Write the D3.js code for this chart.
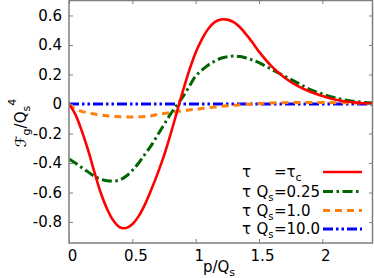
<!DOCTYPE html>
<html>
<head>
<meta charset="utf-8">
<script src="https://cdn.jsdelivr.net/npm/d3@7"></script>
<style>
  body { margin: 0; background: #fff; }
  text { font-family: "DejaVu Sans", sans-serif; }
</style>
</head>
<body>
<div id="chart"></div>
<script>
// chart size
const width = 374;
const height = 278;
const margin = {left: 69, right: 1, top: 0, bottom: 35};

// data
const pValues = [0, 0.05, 0.1, 0.15, 0.2, 0.25, 0.3, 0.35, 0.4, 0.45, 0.5, 0.55, 0.6, 0.65, 0.7, 0.75, 0.8, 0.85, 0.9, 0.95, 1.0,
                 1.05, 1.1, 1.15, 1.2, 1.25, 1.3, 1.35, 1.4, 1.45, 1.5, 1.6, 1.7, 1.8, 1.9, 2.0, 2.1, 2.2, 2.3, 2.4];
const tauC = [0, -0.07, -0.18, -0.31, -0.46, -0.6, -0.71, -0.79, -0.835, -0.84, -0.815, -0.76, -0.68, -0.58, -0.47, -0.35, -0.21, -0.06, 0.09, 0.23, 0.35,
              0.44, 0.51, 0.555, 0.573, 0.572, 0.555, 0.52, 0.47, 0.415, 0.355, 0.255, 0.18, 0.125, 0.085, 0.055, 0.03, 0.015, 0.007, 0.003];
const tau025 = [-0.373, -0.4, -0.43, -0.46, -0.49, -0.51, -0.52, -0.522, -0.515, -0.49, -0.45, -0.4, -0.34, -0.28, -0.21, -0.14, -0.07, -0.01, 0.05, 0.12, 0.19,
                0.23, 0.265, 0.29, 0.31, 0.32, 0.325, 0.322, 0.312, 0.298, 0.28, 0.235, 0.19, 0.145, 0.1, 0.068, 0.042, 0.024, 0.013, 0.007];
const tau10 = [0, -0.035, -0.05, -0.06, -0.068, -0.075, -0.08, -0.084, -0.086, -0.087, -0.088, -0.087, -0.085, -0.08, -0.07, -0.064, -0.058, -0.051, -0.045, -0.04, -0.035,
               -0.03, -0.025, -0.02, -0.016, -0.012, -0.008, -0.005, -0.002, 0.0, 0.003, 0.007, 0.009, 0.01, 0.01, 0.01, 0.009, 0.008, 0.007, 0.006];
const tau100 = pValues.map(() => 0); // flat at zero in the picture

const seriesNames = ["τ_c", "0.25", "1.0", "10.0"];
const seriesValues = [tauC, tau025, tau10, tau100];
const colors = ["#ff0000", "#006400", "#ff7f0e", "#0000ff"];
const dashes = [null, "10,3.5,2.5,3.5", "7,5", "10,3,2.5,3,2.5,3"];

const xTicks = [0, 0.5, 1, 1.5, 2];
const yTicks = [-0.8, -0.6, -0.4, -0.2, 0, 0.2, 0.4, 0.6];

const svg = d3.select("#chart")
  .append("svg")
  .attr("width", width)
  .attr("height", height);

const x = d3.scaleLinear().domain([0, 2.4]).range([margin.left, width - margin.right]);
const y = d3.scaleLinear().domain([-0.942, 0.705]).range([height - margin.bottom, margin.top]);

const frameColor = "#7f7f7f";

// curves (drawn first so the frame sits on top)
const line = d3.line()
  .x((d, i) => x(pValues[i]))
  .y(d => y(d))
  .curve(d3.curveCatmullRom);

const plot = svg.append("g");
plot.append("clipPath").attr("id", "clip")
  .append("rect")
  .attr("x", margin.left).attr("y", margin.top)
  .attr("width", width - margin.left - margin.right)
  .attr("height", height - margin.top - margin.bottom);

// draw in reverse so red ends on top
[3, 2, 1, 0].forEach(k => {
  plot.append("path")
    .datum(seriesValues[k])
    .attr("clip-path", "url(#clip)")
    .attr("fill", "none")
    .attr("stroke", colors[k])
    .attr("stroke-width", k === 0 ? 2.6 : 3)
    .attr("stroke-dasharray", dashes[k])
    .attr("d", line);
});

// axes with inward ticks on all sides
svg.append("g")
  .attr("transform", `translate(0,${y.range()[0]})`)
  .call(d3.axisBottom(x).tickValues(xTicks).tickSize(-4).tickPadding(7)
    .tickFormat(d => d === 0 ? "0" : d3.format("")(d)))
  .call(g => g.select(".domain").remove())
  .call(g => g.selectAll("line").attr("stroke", frameColor))
  .call(g => g.selectAll("text").attr("font-size", 15).attr("fill", "#000").attr("dx", 3));

svg.append("g")
  .attr("transform", `translate(0,${margin.top})`)
  .call(d3.axisTop(x).tickValues(xTicks).tickSize(-4).tickFormat(""))
  .call(g => g.select(".domain").remove())
  .call(g => g.selectAll("line").attr("stroke", frameColor));

svg.append("g")
  .attr("transform", `translate(${margin.left},0)`)
  .call(d3.axisLeft(y).tickValues(yTicks).tickSize(-4).tickPadding(7)
    .tickFormat(d => d === 0 ? "0" : d3.format(".1f")(d).replace("−", "-")))
  .call(g => g.select(".domain").remove())
  .call(g => g.selectAll("line").attr("stroke", frameColor))
  .call(g => g.selectAll("text").attr("font-size", 15).attr("fill", "#000"));

svg.append("g")
  .attr("transform", `translate(${width - margin.right},0)`)
  .call(d3.axisRight(y).tickValues(yTicks).tickSize(-4).tickFormat(""))
  .call(g => g.select(".domain").remove())
  .call(g => g.selectAll("line").attr("stroke", frameColor));

// frame
svg.append("rect")
  .attr("x", margin.left).attr("y", margin.top + 0.5)
  .attr("width", width - margin.left - margin.right - 0.5)
  .attr("height", height - margin.top - margin.bottom - 0.5)
  .attr("fill", "none")
  .attr("stroke", frameColor)
  .attr("stroke-width", 1.5);

// axis titles
const xLabel = svg.append("text")
  .attr("x", 219).attr("y", 272)
  .attr("text-anchor", "middle")
  .attr("font-size", 15);
xLabel.append("tspan").text("p/Q");
xLabel.append("tspan").attr("font-size", 11).attr("dy", 4).text("s");

const yLabel = svg.append("text")
  .attr("transform", "translate(26,123) rotate(-90)")
  .attr("text-anchor", "middle")
  .attr("font-size", 15);
yLabel.append("tspan").attr("font-style", "italic").text("ℱ");
yLabel.append("tspan").attr("font-size", 11).attr("dy", 4).text("g");
yLabel.append("tspan").attr("dy", -4).text("/Q");
yLabel.append("tspan").attr("font-size", 11).attr("dy", 4).text("s");
yLabel.append("tspan").attr("font-size", 11).attr("dy", -14).text("4");

// legend
const legendY = [172, 191.5, 210.5, 229];
seriesNames.forEach((name, i) => {
  const row = svg.append("g").attr("transform", `translate(0,${legendY[i]})`);
  row.append("text").attr("x", 242).attr("y", 5).attr("font-size", 15).text("τ");
  if (i === 0) {
    const t = row.append("text").attr("x", 274).attr("y", 5).attr("font-size", 15);
    t.append("tspan").text("=τ");
    t.append("tspan").attr("font-size", 11).attr("dy", 4).text("c");
  } else {
    const q = row.append("text").attr("x", 256.5).attr("y", 5).attr("font-size", 15);
    q.append("tspan").text("Q");
    q.append("tspan").attr("font-size", 10).attr("dy", 4).text("s");
    row.append("text").attr("x", 274).attr("y", 5).attr("font-size", 15).text("=" + name);
  }
  row.append("line")
    .attr("x1", 323).attr("x2", 362)
    .attr("stroke", colors[i])
    .attr("stroke-width", i === 0 ? 2.6 : 3)
    .attr("stroke-dasharray", dashes[i]);
});
</script>
</body>
</html>
